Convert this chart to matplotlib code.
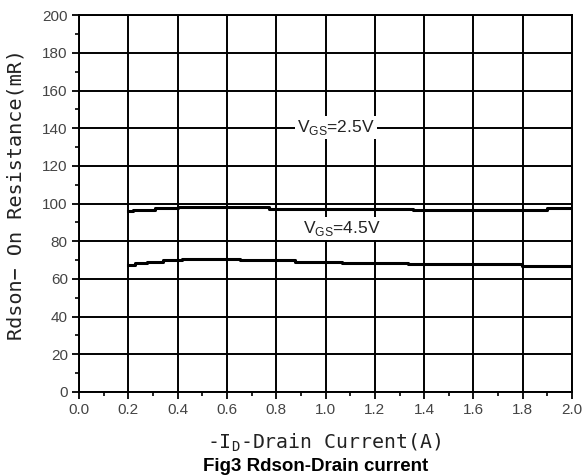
import matplotlib
matplotlib.use("Agg")
import matplotlib.pyplot as plt
from matplotlib.ticker import MultipleLocator

# Curvas (escalones)
id_25 = [0.20, 0.22, 0.22, 0.31, 0.31, 0.40, 0.40, 0.77, 0.77, 1.355, 1.355, 1.90, 1.90, 2.00]
rds_25 = [96.3, 96.3, 96.8, 96.8, 97.7, 97.7, 98.2, 98.2, 97.3, 97.3, 96.8, 96.8, 97.5, 97.5]

id_45 = [0.20, 0.227, 0.227, 0.275, 0.275, 0.34, 0.34, 0.417, 0.417, 0.653, 0.653,
         0.876, 0.876, 1.066, 1.066, 1.335, 1.335, 1.796, 1.796, 2.00]
rds_45 = [67.6, 67.6, 68.4, 68.4, 69.1, 69.1, 69.8, 69.8, 70.5, 70.5, 69.8,
          69.8, 69.0, 69.0, 68.3, 68.3, 67.7, 67.7, 67.0, 67.0]

x_ticks = [0.0, 0.2, 0.4, 0.6, 0.8, 1.0, 1.2, 1.4, 1.6, 1.8, 2.0]
y_ticks = [0, 20, 40, 60, 80, 100, 120, 140, 160, 180, 200]

fig = plt.figure(figsize=(5.85, 4.76), dpi=100)
ax = fig.add_axes([0.135, 0.1765, 0.843, 0.7915])

ax.plot(id_25, rds_25, color="black", lw=2.2, zorder=3)
ax.plot(id_45, rds_45, color="black", lw=2.2, zorder=3)

ax.set_xlim(0, 2.0)
ax.set_ylim(0, 200)
ax.set_xticks(x_ticks)
ax.set_yticks(y_ticks)
ax.set_xticklabels([f"{v:.1f}" for v in x_ticks])
ax.set_yticklabels([str(v) for v in y_ticks])
ax.xaxis.set_minor_locator(MultipleLocator(0.1))
ax.yaxis.set_minor_locator(MultipleLocator(10))
ax.grid(True, which="major", color="black", lw=1.4, zorder=1)
ax.tick_params(which="major", direction="out", length=5, width=1.3, color="black",
               labelsize=11, labelcolor="#444444", pad=3)
ax.tick_params(which="minor", direction="out", length=3, width=1.2, color="black")
for s in ax.spines.values():
    s.set_linewidth(1.4)
    s.set_zorder(4)
for lab in ax.get_xticklabels() + ax.get_yticklabels():
    lab.set_family("Liberation Sans")

box = dict(facecolor="white", edgecolor="none", pad=1.5)
ax.text(0.885, 140.5, r"V$_\mathregular{GS}$=2.5V", fontsize=12.5, color="#222222",
        family="Liberation Sans", va="center", ha="left", bbox=box, zorder=5)
ax.text(0.91, 87, r"V$_\mathregular{GS}$=4.5V", fontsize=12.5, color="#222222",
        family="Liberation Sans", va="center", ha="left", bbox=box, zorder=5)

ax.set_ylabel("Rdson\u2212 On Resistance(mR)", family="DejaVu Sans Mono", fontsize=14.5,
              color="#222222")
ax.yaxis.set_label_coords(-0.108, 0.525)
fig.text(0.555, 0.069, r"-I$_\mathregular{D}$-Drain Current(A)", family="DejaVu Sans Mono",
         fontsize=14.3, color="#222222", ha="center", va="center")
fig.text(0.54, 0.019, "Fig3 Rdson-Drain current", family="Liberation Sans", fontsize=13.5,
         weight="bold", ha="center", va="center")

fig.savefig("out.png", dpi=100)
